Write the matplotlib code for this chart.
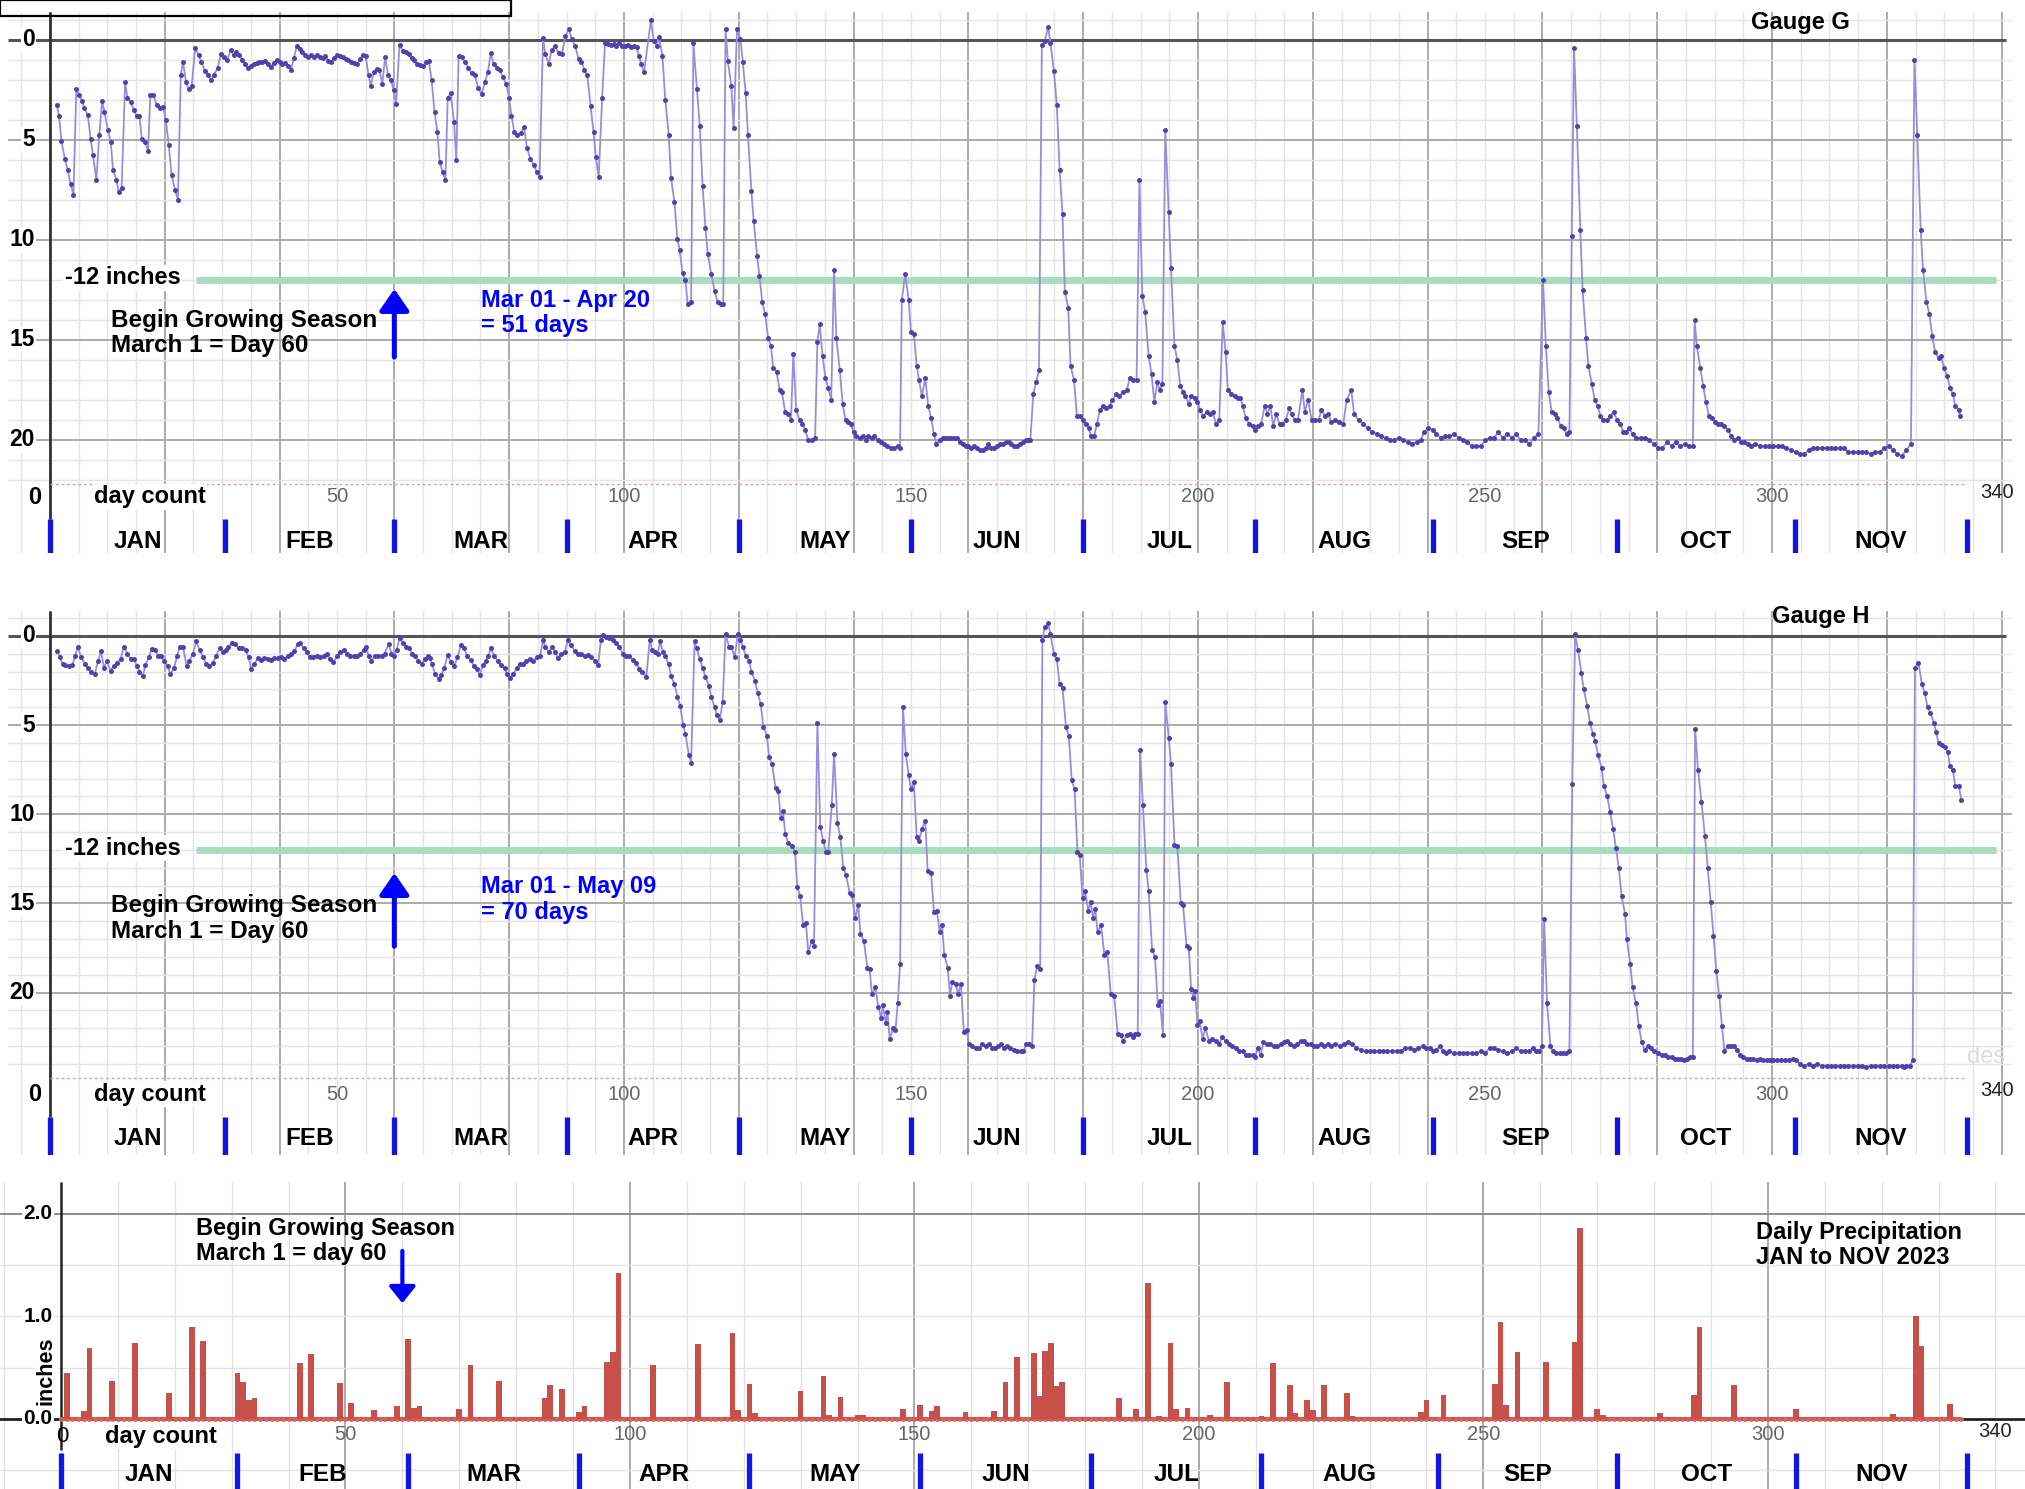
import numpy as np
import matplotlib.pyplot as plt

plt.rcParams['font.family'] = ['Liberation Sans', 'DejaVu Sans']

# ---- values: (day count, depth to water in inches) ----
gauge_g = [
    (1.2, 3.25), (1.6, 3.8), (2.0, 5.05), (2.6, 5.95), (3.1, 6.5), (3.6, 7.2), (4.1, 7.75),
    (4.6, 2.45), (5.1, 2.75), (5.6, 3.05), (6.0, 3.4), (6.6, 3.75), (7.1, 4.95), (7.5, 5.75),
    (8.1, 7.0), (8.6, 4.75), (9.1, 3.05), (9.5, 3.6), (10.1, 4.5), (10.6, 5.1), (11.0, 6.5),
    (11.6, 7.0), (12.0, 7.6), (12.5, 7.4), (13.1, 2.1), (13.5, 2.9), (14.1, 3.1), (14.6, 3.5),
    (15.1, 3.8), (15.6, 3.8), (16.0, 4.95), (16.6, 5.1), (17.1, 5.55), (17.5, 2.75), (18.0, 2.75),
    (18.6, 3.25), (19.1, 3.4), (19.7, 3.35), (20.2, 4.0), (20.7, 5.25), (21.2, 6.75), (21.8, 7.5),
    (22.3, 8.0), (22.8, 1.75), (23.2, 1.1), (23.7, 2.1), (24.2, 2.45), (24.7, 2.3), (25.3, 0.4),
    (25.9, 0.75), (26.4, 1.1), (27.0, 1.55), (27.5, 1.75), (28.1, 2.0), (28.6, 1.75), (29.2, 1.4),
    (29.8, 0.7), (30.3, 0.85), (30.9, 1.0), (31.5, 0.5), (32.0, 0.75), (32.5, 0.6), (33.0, 0.75),
    (33.5, 1.0), (34.0, 1.2), (34.5, 1.4), (35.0, 1.3), (35.5, 1.2), (36.0, 1.15), (36.5, 1.1),
    (37.0, 1.1), (37.5, 1.05), (38.0, 1.2), (38.5, 1.35), (39.0, 1.15), (39.5, 1.0), (40.0, 1.1),
    (40.5, 1.2), (41.0, 1.15), (41.5, 1.3), (42.0, 1.5), (42.5, 0.9), (43.0, 0.3), (43.5, 0.45),
    (44.0, 0.6), (44.5, 0.75), (45.0, 0.85), (45.5, 0.75), (46.0, 0.85), (46.5, 0.75), (47.0, 0.85),
    (47.5, 0.9), (48.0, 0.8), (48.5, 1.05), (49.0, 1.1), (49.5, 0.9), (50.0, 0.75), (50.5, 0.8),
    (51.0, 0.85), (51.5, 0.95), (52.0, 1.0), (52.5, 1.1), (53.0, 1.15), (53.5, 1.2), (54.0, 0.95),
    (54.5, 0.75), (55.0, 0.8), (55.5, 1.75), (55.9, 2.3), (56.4, 1.6), (56.9, 1.45), (57.4, 1.5),
    (57.9, 2.2), (58.4, 0.85), (58.9, 1.75), (59.4, 2.0), (59.9, 2.5), (60.3, 3.2), (60.9, 0.25),
    (61.5, 0.55), (62.0, 0.6), (62.5, 0.7), (63.0, 0.9), (63.5, 1.0), (64.0, 1.2), (64.5, 1.25),
    (65.0, 1.3), (65.5, 1.1), (66.0, 1.05), (66.5, 2.0), (67.0, 3.6), (67.5, 4.6), (67.9, 6.1),
    (68.4, 6.6), (68.9, 7.0), (69.3, 2.9), (69.8, 2.65), (70.4, 4.1), (70.8, 6.0), (71.2, 0.8),
    (71.8, 0.85), (72.3, 1.1), (72.9, 1.4), (73.5, 1.65), (74.0, 1.75), (74.6, 2.4), (75.2, 2.7),
    (75.8, 2.1), (76.3, 1.6), (76.8, 0.65), (77.3, 1.2), (77.9, 1.4), (78.4, 1.5), (78.9, 1.85),
    (79.5, 2.2), (80.0, 2.9), (80.4, 3.8), (80.9, 4.6), (81.4, 4.75), (82.0, 4.65), (82.6, 4.35),
    (83.1, 5.4), (83.7, 5.95), (84.3, 6.25), (84.8, 6.6), (85.3, 6.85), (85.9, -0.1), (86.3, 0.7),
    (86.9, 1.2), (87.4, 0.5), (88.0, 0.3), (88.6, 0.65), (89.2, 0.7), (89.8, -0.2), (90.4, -0.55),
    (90.9, -0.05), (91.5, 0.3), (92.1, 0.95), (92.6, 1.1), (93.1, 1.5), (93.6, 1.75), (94.2, 3.3),
    (94.7, 4.6), (95.1, 5.85), (95.6, 6.85), (96.2, 2.9), (96.7, 0.15), (97.2, 0.2), (97.7, 0.25),
    (98.2, 0.2), (98.7, 0.3), (99.2, 0.15), (99.7, 0.3), (100.2, 0.3), (100.7, 0.25), (101.2, 0.35),
    (101.7, 0.3), (102.2, 0.35), (102.6, 0.8), (103.0, 1.2), (103.5, 1.6), (104.7, -1.0),
    (105.2, 0.05), (105.7, 0.3), (106.1, -0.15), (106.7, 0.8), (107.2, 3.0), (107.8, 4.75),
    (108.2, 6.9), (108.8, 8.1), (109.3, 9.95), (109.7, 10.5), (110.2, 11.65), (110.7, 12.0),
    (111.1, 13.2), (111.7, 13.1), (112.1, 0.15), (112.7, 2.45), (113.2, 4.3), (113.7, 7.3),
    (114.2, 9.4), (114.6, 10.7), (115.2, 11.7), (115.8, 12.55), (116.3, 13.1), (116.9, 13.2),
    (117.3, 13.2), (117.7, -0.55), (118.1, 1.05), (118.7, 2.3), (119.1, 4.4), (119.7, -0.55),
    (120.3, -0.05), (120.7, 1.1), (121.2, 2.65), (121.6, 4.75), (122.2, 7.55), (122.6, 9.05),
    (123.2, 10.8), (123.6, 11.8), (124.1, 13.1), (124.6, 13.7), (125.1, 14.9), (125.6, 15.3),
    (126.0, 16.4), (126.6, 16.6), (127.1, 17.5), (127.5, 17.6), (128.1, 18.6), (128.6, 18.7),
    (129.1, 19.0), (129.5, 15.7), (130.0, 18.5), (130.6, 19.0), (131.1, 19.2), (131.6, 19.5),
    (132.1, 20.0), (132.7, 20.0), (133.3, 19.9), (133.7, 15.1), (134.1, 14.2), (134.6, 15.8),
    (135.1, 16.9), (135.6, 17.4), (136.1, 18.0), (136.6, 11.5), (137.0, 14.9), (137.6, 16.5),
    (138.1, 18.2), (138.6, 19.0), (139.1, 19.1), (139.5, 19.2), (140.0, 19.6), (140.5, 19.8),
    (141.1, 19.9), (141.6, 19.8), (142.2, 20.0), (142.6, 19.8), (143.2, 19.9), (143.6, 19.8),
    (144.2, 20.0), (144.7, 20.1), (145.3, 20.2), (145.9, 20.3), (146.5, 20.4), (147.1, 20.4),
    (147.7, 20.3), (148.1, 20.4), (148.4, 13.0), (149.0, 11.7), (149.6, 13.0), (150.0, 14.6),
    (150.5, 14.7), (151.0, 16.3), (151.4, 17.0), (151.9, 17.8), (152.5, 16.9), (153.0, 18.3),
    (153.5, 18.9), (154.0, 19.7), (154.4, 20.2), (155.0, 20.0), (155.5, 19.9), (156.0, 19.9),
    (156.5, 19.9), (157.0, 19.9), (157.5, 19.9), (158.0, 19.9), (158.5, 20.1), (159.0, 20.2),
    (159.5, 20.3), (160.0, 20.3), (160.5, 20.4), (161.0, 20.3), (161.5, 20.4), (162.0, 20.5),
    (162.5, 20.5), (163.0, 20.4), (163.5, 20.2), (164.0, 20.4), (164.5, 20.4), (165.0, 20.3),
    (165.5, 20.2), (166.0, 20.2), (166.5, 20.1), (167.0, 20.1), (167.5, 20.2), (168.0, 20.3),
    (168.5, 20.3), (169.0, 20.2), (169.5, 20.1), (170.0, 20.0), (170.4, 20.0), (170.8, 20.0),
    (171.3, 17.7), (171.8, 17.1), (172.3, 16.5), (172.8, 0.25), (173.3, 0.05), (173.9, -0.65),
    (174.3, 0.15), (174.9, 1.55), (175.4, 3.25), (175.9, 6.5), (176.4, 8.7), (176.8, 12.6),
    (177.4, 13.4), (177.8, 16.3), (178.4, 17.0), (178.9, 18.8), (179.4, 18.8), (179.9, 19.0),
    (180.5, 19.2), (181.0, 19.4), (181.3, 19.8), (181.9, 19.8), (182.4, 19.2), (182.9, 18.5),
    (183.4, 18.3), (184.0, 18.4), (184.6, 18.3), (185.1, 18.0), (185.8, 17.7), (186.3, 17.8),
    (186.9, 17.6), (187.6, 17.5), (188.1, 16.9), (188.6, 17.0), (189.3, 17.0), (189.8, 7.0),
    (190.3, 12.8), (190.8, 13.6), (191.4, 15.8), (191.9, 16.7), (192.4, 18.1), (192.9, 17.1),
    (193.3, 17.5), (193.8, 17.2), (194.3, 4.5), (194.9, 8.6), (195.3, 11.4), (195.9, 15.3),
    (196.4, 16.0), (196.9, 17.3), (197.4, 17.6), (197.8, 17.8), (198.4, 18.2), (198.8, 17.8),
    (199.4, 17.9), (199.9, 18.1), (200.4, 18.5), (200.9, 18.8), (201.5, 18.6), (202.1, 18.7),
    (202.6, 18.6), (203.1, 19.2), (203.7, 19.0), (204.3, 14.1), (204.8, 15.6), (205.2, 17.5),
    (205.8, 17.7), (206.4, 17.8), (206.9, 17.9), (207.4, 17.9), (207.8, 18.3), (208.3, 18.9),
    (208.9, 19.2), (209.5, 19.3), (210.0, 19.5), (210.5, 19.3), (211.0, 19.2), (211.6, 18.3),
    (212.1, 18.7), (212.6, 18.3), (213.1, 19.3), (213.6, 18.7), (214.2, 19.2), (214.7, 19.2),
    (215.3, 19.0), (215.9, 18.4), (216.3, 18.7), (216.9, 19.0), (217.4, 19.0), (218.2, 17.5),
    (218.6, 18.6), (219.2, 18.0), (219.8, 19.0), (220.4, 19.0), (221.0, 19.0), (221.5, 18.5),
    (222.1, 18.8), (222.7, 18.7), (223.2, 19.1), (223.9, 19.0), (224.5, 19.1), (225.3, 19.2),
    (225.9, 18.0), (226.7, 17.5), (227.2, 18.7), (228.0, 19.0), (228.8, 19.2), (229.6, 19.4),
    (230.3, 19.6), (231.1, 19.7), (231.9, 19.8), (232.7, 19.9), (233.4, 20.0), (234.2, 20.0),
    (235.0, 19.9), (235.7, 20.0), (236.5, 20.1), (237.3, 20.2), (238.1, 20.1), (238.8, 20.0),
    (239.4, 19.6), (240.1, 19.4), (240.9, 19.5), (241.5, 19.7), (242.3, 19.9), (243.1, 19.8),
    (243.8, 19.8), (244.6, 19.7), (245.4, 19.9), (246.2, 20.0), (246.9, 20.1), (247.7, 20.3),
    (248.5, 20.3), (249.3, 20.3), (250.0, 20.0), (250.8, 19.9), (251.6, 19.9), (252.3, 19.6),
    (253.1, 19.9), (253.9, 19.7), (254.7, 19.9), (255.4, 19.7), (256.2, 20.0), (257.0, 20.0),
    (257.7, 20.2), (258.5, 19.9), (259.3, 19.7), (260.1, 12.0), (260.6, 15.3), (261.1, 17.6),
    (261.6, 18.6), (262.2, 18.7), (262.6, 18.9), (263.2, 19.3), (263.7, 19.4), (264.2, 19.7),
    (264.7, 19.6), (265.1, 9.8), (265.5, 0.4), (266.0, 4.3), (266.6, 9.5), (267.0, 12.5),
    (267.6, 14.9), (268.0, 16.3), (268.6, 17.2), (269.1, 18.0), (269.6, 18.3), (270.1, 18.8),
    (270.6, 19.0), (271.3, 19.0), (271.8, 18.8), (272.4, 18.6), (273.0, 19.0), (273.6, 19.2),
    (274.1, 19.6), (274.6, 19.6), (275.1, 19.4), (275.7, 19.7), (276.3, 19.9), (277.1, 19.9),
    (277.8, 19.9), (278.6, 20.0), (279.4, 20.2), (280.1, 20.4), (280.9, 20.4), (281.7, 20.1),
    (282.5, 20.3), (283.2, 20.1), (284.0, 20.3), (284.8, 20.2), (285.5, 20.3), (286.2, 20.3),
    (286.5, 14.0), (286.9, 15.3), (287.5, 16.4), (288.0, 17.3), (288.5, 18.1), (289.0, 18.8),
    (289.6, 18.9), (290.0, 19.1), (290.6, 19.2), (291.1, 19.2), (291.7, 19.3), (292.3, 19.5),
    (292.9, 19.8), (293.4, 20.0), (294.0, 19.9), (294.6, 20.1), (295.2, 20.1), (295.8, 20.2),
    (296.4, 20.3), (297.1, 20.2), (297.9, 20.3), (298.7, 20.3), (299.4, 20.3), (300.2, 20.3),
    (301.0, 20.3), (301.8, 20.3), (302.5, 20.4), (303.3, 20.5), (304.1, 20.6), (304.9, 20.7),
    (305.6, 20.7), (306.4, 20.5), (307.2, 20.4), (307.9, 20.4), (308.7, 20.4), (309.5, 20.4),
    (310.2, 20.4), (311.0, 20.4), (311.8, 20.4), (312.6, 20.4), (313.3, 20.6), (314.1, 20.6),
    (314.9, 20.6), (315.7, 20.6), (316.4, 20.6), (317.2, 20.7), (318.0, 20.6), (318.8, 20.6),
    (319.5, 20.4), (320.3, 20.3), (321.1, 20.5), (321.8, 20.7), (322.6, 20.8), (323.4, 20.5),
    (324.2, 20.2), (324.8, 1.0), (325.3, 4.75), (325.9, 9.5), (326.3, 11.5), (326.9, 13.1),
    (327.4, 13.7), (327.9, 14.8), (328.4, 15.6), (329.0, 15.9), (329.4, 15.8), (330.0, 16.4),
    (330.5, 16.8), (331.0, 17.4), (331.5, 17.7), (331.9, 18.3), (332.5, 18.5), (332.8, 18.8),
]

gauge_h = [
    (1.3, 0.85), (1.7, 1.2), (2.2, 1.55), (2.7, 1.65), (3.3, 1.7), (3.9, 1.65), (4.4, 1.1),
    (4.9, 0.6), (5.4, 1.2), (6.1, 1.55), (6.6, 1.8), (7.2, 2.0), (7.8, 2.15), (8.4, 1.4),
    (8.9, 0.85), (9.4, 1.8), (9.9, 1.4), (10.6, 1.95), (11.1, 1.7), (11.7, 1.5), (12.3, 1.3),
    (12.9, 0.6), (13.5, 1.0), (14.1, 1.3), (14.6, 1.3), (15.2, 1.7), (15.6, 2.0), (16.2, 2.25),
    (16.6, 1.65), (17.2, 1.2), (17.7, 0.75), (18.3, 0.8), (18.9, 1.1), (19.4, 1.1), (19.9, 1.4),
    (20.5, 1.7), (21.0, 2.15), (21.6, 1.8), (22.2, 1.1), (22.6, 0.6), (23.2, 0.6), (23.8, 1.7),
    (24.3, 1.4), (24.9, 1.0), (25.5, 0.3), (26.1, 0.8), (26.7, 1.2), (27.2, 1.55), (27.8, 1.7),
    (28.4, 1.5), (29.0, 1.1), (29.6, 0.65), (30.2, 0.9), (30.7, 0.8), (31.1, 0.6), (31.7, 0.4),
    (32.3, 0.45), (32.9, 0.7), (33.5, 0.65), (34.1, 0.8), (34.6, 1.2), (35.1, 1.85), (35.6, 1.55),
    (36.3, 1.25), (36.8, 1.35), (37.3, 1.25), (38.0, 1.3), (38.5, 1.35), (39.1, 1.25), (39.7, 1.25),
    (40.3, 1.2), (40.8, 1.3), (41.5, 1.1), (42.0, 1.0), (42.6, 0.85), (43.2, 0.45), (43.6, 0.4),
    (44.2, 0.7), (44.7, 0.9), (45.3, 1.2), (45.9, 1.2), (46.5, 1.1), (47.1, 1.2), (47.7, 1.15),
    (48.2, 1.0), (48.8, 1.3), (49.4, 1.45), (50.0, 1.15), (50.6, 0.9), (51.2, 0.8), (51.7, 1.0),
    (52.3, 1.1), (52.9, 1.15), (53.5, 1.15), (54.1, 1.0), (54.7, 0.8), (55.1, 0.6), (55.5, 1.1),
    (56.0, 1.4), (56.6, 1.1), (57.2, 1.1), (57.8, 1.1), (58.3, 1.0), (59.0, 0.45), (59.5, 1.0),
    (59.9, 1.1), (60.4, 0.8), (60.9, 0.1), (61.5, 0.4), (62.1, 0.6), (62.6, 0.7), (63.1, 1.0),
    (63.6, 1.15), (64.2, 1.4), (64.8, 1.55), (65.3, 1.3), (65.8, 1.15), (66.2, 1.25), (66.6, 1.6),
    (67.1, 2.15), (67.7, 2.4), (68.1, 2.2), (68.7, 1.8), (69.3, 1.05), (69.8, 1.45), (70.4, 1.7),
    (71.0, 1.2), (71.6, 0.5), (72.2, 0.7), (72.7, 1.15), (73.3, 1.35), (73.9, 1.7), (74.4, 1.85),
    (74.9, 2.2), (75.4, 1.65), (75.9, 1.4), (76.4, 1.1), (76.8, 0.7), (77.4, 1.1), (78.0, 1.4),
    (78.6, 1.65), (79.2, 1.8), (79.7, 2.15), (80.1, 2.35), (80.7, 2.15), (81.3, 1.8), (81.9, 1.6),
    (82.4, 1.55), (83.0, 1.4), (83.6, 1.3), (84.2, 1.4), (84.8, 1.2), (85.4, 1.1), (85.9, 0.25),
    (86.3, 0.6), (86.9, 0.9), (87.5, 0.6), (88.0, 0.9), (88.5, 1.25), (89.1, 1.0), (89.7, 0.9),
    (90.2, 0.25), (90.8, 0.5), (91.4, 0.85), (92.0, 1.0), (92.5, 1.0), (93.2, 1.15), (93.7, 1.05),
    (94.3, 1.2), (95.0, 1.4), (95.5, 1.65), (96.0, 0.2), (96.4, -0.05), (96.8, 0.05), (97.4, 0.1),
    (98.1, 0.2), (98.6, 0.4), (99.2, 0.6), (99.8, 1.0), (100.3, 1.1), (100.9, 1.1), (101.5, 1.35),
    (102.1, 1.5), (102.7, 1.85), (103.2, 2.0), (103.9, 2.3), (104.5, 0.2), (104.9, 0.8),
    (105.4, 0.9), (105.9, 1.0), (106.3, 0.3), (106.8, 0.9), (107.2, 1.1), (107.8, 1.6),
    (108.2, 2.25), (108.8, 2.7), (109.3, 3.4), (109.8, 3.9), (110.3, 5.0), (110.7, 5.5),
    (111.3, 6.65), (111.7, 7.1), (112.3, 0.3), (112.7, 0.7), (113.2, 1.3), (113.7, 1.8),
    (114.2, 2.3), (114.8, 2.8), (115.2, 3.4), (115.8, 4.0), (116.2, 4.45), (116.7, 4.7),
    (117.2, 3.7), (117.7, -0.1), (118.3, 0.6), (118.7, 0.6), (119.3, 1.2), (119.8, -0.1),
    (120.3, 0.2), (120.7, 0.6), (121.2, 1.1), (121.8, 1.4), (122.2, 2.0), (122.8, 2.5),
    (123.3, 3.2), (123.8, 3.8), (124.3, 5.1), (124.9, 5.6), (125.3, 6.8), (125.8, 7.2),
    (126.4, 8.5), (126.9, 8.7), (127.3, 10.2), (127.7, 9.8), (128.1, 11.1), (128.6, 11.6),
    (129.2, 11.8), (129.8, 12.1), (130.2, 14.1), (130.7, 14.6), (131.2, 16.2), (131.7, 16.1),
    (132.1, 17.7), (132.7, 17.1), (133.1, 17.4), (133.7, 4.9), (134.2, 10.7), (134.7, 11.5),
    (135.2, 12.1), (135.6, 12.1), (136.2, 9.5), (136.6, 6.6), (137.2, 10.5), (137.7, 11.3),
    (138.2, 13.0), (138.7, 13.4), (139.3, 14.4), (139.7, 14.5), (140.3, 15.8), (140.8, 15.1),
    (141.2, 16.7), (141.8, 17.1), (142.4, 18.6), (142.8, 18.7), (143.2, 20.1), (143.8, 19.7),
    (144.3, 20.8), (144.8, 21.4), (145.1, 20.7), (145.6, 21.7), (145.9, 21.1), (146.3, 22.6),
    (146.9, 22.0), (147.3, 22.1), (147.7, 20.6), (148.1, 18.4), (148.6, 4.0), (149.1, 6.6),
    (149.6, 7.8), (150.0, 8.6), (150.5, 8.2), (151.0, 11.3), (151.4, 11.5), (151.9, 10.8),
    (152.5, 10.4), (152.9, 13.2), (153.5, 13.3), (154.0, 15.5), (154.5, 15.4), (155.0, 16.6),
    (155.4, 16.2), (155.8, 17.9), (156.4, 18.6), (156.8, 20.2), (157.2, 19.4), (157.8, 19.5),
    (158.2, 20.1), (158.7, 19.5), (159.2, 22.2), (159.7, 22.1), (160.1, 22.9), (160.7, 23.0),
    (161.3, 23.1), (161.9, 23.1), (162.4, 22.9), (163.0, 23.0), (163.6, 22.9), (164.2, 23.1),
    (164.6, 23.1), (165.2, 23.0), (165.7, 22.9), (166.2, 23.1), (166.7, 23.0), (167.3, 23.1),
    (167.9, 23.2), (168.4, 23.3), (169.1, 23.3), (169.6, 23.3), (170.1, 22.9), (170.6, 22.9),
    (171.1, 23.0), (171.5, 19.3), (172.0, 18.5), (172.5, 18.7), (172.9, 0.2), (173.3, -0.5),
    (173.9, -0.7), (174.3, -0.1), (174.9, 1.0), (175.4, 1.3), (175.9, 2.7), (176.4, 2.9),
    (177.0, 5.1), (177.5, 5.6), (178.0, 8.1), (178.5, 8.6), (179.0, 12.1), (179.4, 12.3),
    (179.9, 14.7), (180.3, 14.3), (180.9, 15.4), (181.3, 14.9), (181.7, 15.8), (182.1, 15.3),
    (182.5, 16.6), (183.1, 16.2), (183.7, 17.9), (184.2, 17.7), (184.8, 20.1), (185.4, 20.2),
    (186.0, 22.3), (186.5, 22.4), (187.0, 22.7), (187.6, 22.4), (188.1, 22.3), (188.7, 22.5),
    (189.1, 22.3), (189.5, 22.3), (189.9, 6.4), (190.4, 9.5), (191.0, 13.1), (191.4, 14.3),
    (192.0, 17.6), (192.5, 18.0), (193.0, 20.7), (193.4, 20.5), (193.9, 22.4), (194.3, 3.7),
    (194.9, 5.7), (195.3, 7.2), (195.9, 11.7), (196.4, 11.8), (197.0, 15.0), (197.4, 15.1),
    (198.0, 17.4), (198.4, 17.5), (198.8, 19.8), (199.2, 20.3), (199.5, 19.9), (199.9, 21.8),
    (200.3, 21.6), (200.8, 22.6), (201.3, 22.0), (201.9, 22.7), (202.5, 22.6), (203.1, 22.7),
    (203.7, 22.9), (204.2, 22.5), (204.8, 22.7), (205.4, 22.9), (206.0, 23.0), (206.6, 23.1),
    (207.2, 23.3), (207.8, 23.3), (208.3, 23.5), (208.9, 23.5), (209.5, 23.5), (210.0, 23.6),
    (210.4, 23.1), (210.9, 23.5), (211.4, 22.8), (212.0, 22.9), (212.6, 22.9), (213.2, 23.0),
    (213.8, 23.0), (214.4, 22.9), (214.9, 22.8), (215.5, 22.7), (216.1, 22.9), (216.7, 23.0),
    (217.3, 22.9), (217.9, 22.7), (218.4, 22.7), (219.0, 22.9), (219.6, 22.9), (220.2, 23.0),
    (220.8, 23.0), (221.4, 22.9), (221.9, 23.0), (222.6, 22.9), (223.1, 23.0), (223.9, 22.9),
    (224.7, 23.0), (225.4, 22.9), (226.1, 22.8), (226.9, 22.9), (227.6, 23.1), (228.4, 23.2),
    (229.2, 23.3), (230.0, 23.3), (230.7, 23.3), (231.5, 23.3), (232.3, 23.3), (233.0, 23.3),
    (233.8, 23.3), (234.6, 23.3), (235.4, 23.3), (236.1, 23.1), (236.9, 23.1), (237.7, 23.2),
    (238.4, 23.1), (239.2, 23.0), (239.8, 23.1), (240.4, 23.1), (241.0, 23.3), (241.5, 23.2),
    (242.2, 23.0), (242.7, 23.3), (243.2, 23.4), (243.8, 23.3), (244.6, 23.4), (245.4, 23.4),
    (246.2, 23.4), (246.9, 23.4), (247.7, 23.4), (248.5, 23.4), (249.3, 23.3), (250.0, 23.4),
    (250.8, 23.1), (251.6, 23.1), (252.3, 23.2), (253.1, 23.3), (253.9, 23.4), (254.7, 23.3),
    (255.4, 23.1), (256.2, 23.3), (257.0, 23.3), (257.7, 23.3), (258.4, 23.1), (258.9, 23.3),
    (259.4, 23.3), (259.9, 23.0), (260.3, 15.9), (260.8, 20.6), (261.4, 23.0), (261.8, 23.3),
    (262.4, 23.4), (263.0, 23.4), (263.5, 23.4), (264.1, 23.4), (264.7, 23.3), (265.2, 8.3),
    (265.7, -0.1), (266.2, 0.8), (266.8, 2.1), (267.2, 3.0), (267.8, 3.9), (268.3, 4.9),
    (268.8, 5.5), (269.2, 5.9), (269.7, 6.7), (270.3, 7.4), (270.7, 8.4), (271.3, 9.0),
    (271.8, 9.9), (272.3, 10.8), (272.8, 11.9), (273.3, 13.0), (273.8, 14.6), (274.4, 15.6),
    (274.7, 17.0), (275.3, 18.4), (275.7, 19.7), (276.3, 20.6), (276.8, 21.9), (277.3, 22.8),
    (277.8, 23.2), (278.4, 23.0), (279.0, 23.1), (279.5, 23.3), (280.1, 23.4), (280.8, 23.5),
    (281.3, 23.5), (281.8, 23.6), (282.5, 23.6), (283.1, 23.7), (283.6, 23.7), (284.2, 23.7),
    (284.6, 23.8), (285.2, 23.7), (285.7, 23.6), (286.2, 23.6), (286.6, 5.2), (287.1, 7.5),
    (287.7, 9.3), (288.3, 11.2), (288.8, 13.0), (289.3, 14.9), (289.8, 16.8), (290.3, 18.8),
    (290.8, 20.2), (291.3, 21.9), (291.7, 23.3), (292.3, 23.0), (292.9, 23.0), (293.4, 23.0),
    (293.9, 23.2), (294.4, 23.5), (295.0, 23.6), (295.6, 23.7), (296.2, 23.7), (296.7, 23.7),
    (297.4, 23.8), (297.9, 23.7), (298.5, 23.8), (299.1, 23.8), (299.7, 23.8), (300.2, 23.8),
    (300.9, 23.8), (301.6, 23.8), (302.3, 23.8), (303.0, 23.8), (303.6, 23.7), (304.1, 23.8),
    (304.9, 24.0), (305.6, 24.1), (306.4, 24.0), (307.2, 24.1), (307.9, 24.0), (308.7, 24.1),
    (309.5, 24.1), (310.3, 24.1), (311.0, 24.1), (311.8, 24.1), (312.6, 24.1), (313.3, 24.1),
    (314.1, 24.1), (314.9, 24.1), (315.7, 24.1), (316.4, 24.2), (317.2, 24.1), (318.0, 24.1),
    (318.8, 24.1), (319.5, 24.1), (320.3, 24.1), (321.1, 24.1), (321.8, 24.1), (322.6, 24.1),
    (323.0, 24.2), (323.4, 24.1), (324.0, 24.1), (324.5, 23.8), (324.9, 1.8), (325.5, 1.5),
    (326.1, 2.7), (326.6, 3.2), (327.1, 4.0), (327.6, 4.3), (328.2, 4.9), (328.6, 5.4),
    (329.0, 6.0), (329.6, 6.1), (330.1, 6.2), (330.6, 6.5), (331.0, 7.3), (331.5, 7.5),
    (331.9, 8.4), (332.5, 8.4), (333.0, 9.2),
]

# daily precipitation (inches) on days with rain; all other recorded days are 0
rain_days = [1, 4, 5, 9, 13, 19, 23, 25, 31, 32, 33, 34, 42, 44, 49, 51, 55, 59, 61, 62, 63,
             70, 72, 77, 85, 86, 88, 91, 92, 96, 97, 98, 104, 112, 118, 119, 121, 122, 130,
             134, 135, 137, 140, 141, 148, 151, 153, 154, 159, 164, 166, 168, 171, 172, 173,
             174, 175, 176, 186, 189, 191, 193, 195, 196, 198, 202, 205, 211, 213, 216, 217,
             219, 220, 222, 226, 227, 239, 240, 243, 252, 253, 254, 256, 261, 266, 267, 270,
             271, 281, 287, 288, 294, 305, 322, 326, 327, 332]
rain_inches = [0.45, 0.075, 0.69, 0.37, 0.74, 0.25, 0.90, 0.76, 0.45, 0.36, 0.19, 0.20, 0.55,
               0.63, 0.35, 0.16, 0.085, 0.13, 0.78, 0.11, 0.13, 0.10, 0.53, 0.37, 0.20, 0.33,
               0.29, 0.065, 0.13, 0.56, 0.65, 1.42, 0.53, 0.73, 0.84, 0.09, 0.34, 0.06, 0.27,
               0.42, 0.04, 0.21, 0.04, 0.04, 0.10, 0.14, 0.075, 0.13, 0.065, 0.075, 0.36, 0.60,
               0.64, 0.22, 0.66, 0.74, 0.32, 0.36, 0.20, 0.094, 1.33, 0.03, 0.74, 0.10, 0.11,
               0.04, 0.365, 0.03, 0.55, 0.33, 0.055, 0.19, 0.09, 0.33, 0.25, 0.03, 0.07, 0.19,
               0.23, 0.34, 0.95, 0.14, 0.65, 0.56, 0.75, 1.86, 0.094, 0.04, 0.06, 0.23, 0.90,
               0.33, 0.094, 0.05, 1.00, 0.71, 0.15]
record_days = list(range(0, 335))

month_names = ['JAN', 'FEB', 'MAR', 'APR', 'MAY', 'JUN', 'JUL', 'AUG', 'SEP', 'OCT', 'NOV']
gauge_month_marks = [0, 30.5, 60, 90, 120, 150, 180, 210, 241, 273, 304, 334]
rain_month_marks = [0, 31, 61, 91, 121, 151, 181, 211, 242, 273.5, 305, 335]
depth_ticks = [0, 5, 10, 15, 20]
rain_ticks = [0.0, 1.0, 2.0]
day_ticks = [50, 100, 150, 200, 250, 300]
threshold = 12
season_start = 60

W, H = 2025, 1489
fig = plt.figure(figsize=(W / 100, H / 100), dpi=100)

BLUE = '#0000ff'
MARK_BLUE = '#1414e6'
LINE_PURPLE = '#9a8cdb'
DOT_PURPLE = '#5340ad'
GREEN = '#a8dcbd'
BAR_RED = '#c8504b'
white_box = dict(fc='white', ec='none', pad=1.0)


def px_axes(x0, y0, x1, y1):
    ax = fig.add_axes([x0 / W, 1 - y1 / H, (x1 - x0) / W, (y1 - y0) / H])
    ax.set_axis_off()
    return ax


def month_row(ax, marks, lo, hi, label_y):
    ax.vlines(marks, lo, hi, colors=MARK_BLUE, lw=3.8, zorder=5)
    for i, name in enumerate(month_names):
        ax.text((marks[i] + marks[i + 1]) / 2, label_y, name, ha='center', va='center',
                fontsize=17.5, fontweight='bold', zorder=6)


def gauge_panel(ax, data, ybottom, red_y, num_y, mark_lo, month_y, title, title_y,
                note_y, arrow_tail, arrow_head, span_text, span_y):
    ax.set_xlim(-7.3, 341.8)
    ax.set_ylim(ybottom, -1.4)

    # grid
    for d in range(-5, 345, 5):
        major = d % 20 == 0
        ax.axvline(d, color='#ababab' if major else '#e4e4e4', lw=1.4 if major else 1.0, zorder=0)
    for v in range(-1, int(red_y) + 1):
        if v % 5:
            ax.axhline(v, color='#e4e4e4', lw=1.0, zorder=0)
    for v in depth_ticks[1:]:
        ax.axhline(v, color='#ababab', lw=1.4, zorder=0)
    ax.hlines(0, -7.3, 340.8, colors='#555555', lw=2.2, zorder=1)
    ax.vlines(0, -1.4, mark_lo, colors='#333333', lw=2, zorder=1)
    ax.hlines(red_y, 0, 333.5, colors='#e99a9a', lw=1, linestyles=(0, (2, 2)), zorder=1)

    # threshold and data
    ax.hlines(threshold, 25.4, 339, colors=GREEN, lw=5, zorder=2)
    days, depth = zip(*data)
    ax.plot(days, depth, '-', color=LINE_PURPLE, lw=1.3, zorder=3)
    ax.plot(days, depth, 'o', color=DOT_PURPLE, ms=3.6, mec='none', zorder=4)

    # axis labels
    for v in depth_ticks:
        ax.text(-2.6, v, str(v), ha='right', va='center', fontsize=16.5, fontweight='bold',
                bbox=white_box, zorder=2)
    ax.text(-2.6, num_y, '0', ha='center', va='center', fontsize=17, fontweight='bold')
    ax.text(7.7, num_y, 'day count', ha='left', va='center', fontsize=17, fontweight='bold',
            bbox=white_box, zorder=2)
    for d in day_ticks:
        ax.text(d, num_y, str(d), ha='center', va='center', fontsize=14.5, color='#666666')
    ax.text(339.2, num_y - 0.2, '340', ha='center', va='center', fontsize=14.5, color='#222222')
    month_row(ax, gauge_month_marks, mark_lo, ybottom, month_y)

    # annotations
    ax.text(2.6, threshold - 0.1, '-12 inches', ha='left', va='center', fontsize=17,
            fontweight='bold', bbox=white_box, zorder=2)
    ax.text(10.6, note_y, 'Begin Growing Season\nMarch 1 = Day 60', ha='left', va='center',
            fontsize=17.5, fontweight='bold', linespacing=1.15, zorder=6)
    ax.annotate('', xy=(season_start, arrow_head), xytext=(season_start, arrow_tail),
                arrowprops=dict(arrowstyle='-|>,head_length=0.65,head_width=0.45',
                                mutation_scale=20, lw=3.6, color=BLUE, shrinkA=0, shrinkB=0),
                zorder=6)
    ax.text(75.1, span_y, span_text, ha='left', va='center', fontsize=17, fontweight='bold',
            color=BLUE, linespacing=1.15, zorder=6)
    ax.text(title[1], title_y, title[0], ha='center', va='center', fontsize=17,
            fontweight='bold', zorder=6)


# ---- Gauge G ----
ax_g = px_axes(8, 12, 2012, 553)
gauge_panel(ax_g, gauge_g, 25.65, 22.2, 22.85, 23.95, 25.05, ('Gauge G', 305.0), -0.9,
            14.65, 15.85, 12.45, 'Mar 01 - Apr 20\n= 51 days', 13.65)

# ---- Gauge H ----
ax_h = px_axes(8, 611, 2012, 1155)
gauge_panel(ax_h, gauge_h, 29.11, 24.8, 25.7, 27.0, 28.2, ('Gauge H', 308.5), -1.08,
            15.85, 17.4, 13.3, 'Mar 01 - May 09\n= 70 days', 14.8)
ax_h.text(337.3, 23.6, 'des', ha='center', va='center', fontsize=17, color='#dcdcdc')

# ---- Daily precipitation ----
ax_p = px_axes(0, 1182, 2025, 1489)
ax_p.set_xlim(-10.72, 345.2)
ax_p.set_ylim(-0.683, 2.312)
for d in range(-10, 346, 10):
    major = d % 50 == 0 and d != 0
    ax_p.axvline(d, color='#9c9c9c' if major else '#e2e2e2', lw=1.2 if major else 1.0, zorder=0)
for v in (-0.5, 0.5, 1.0, 1.5):
    ax_p.axhline(v, color='#e2e2e2', lw=1.0, zorder=0)
ax_p.axhline(2.0, color='#8c8c8c', lw=1.4, zorder=0)
ax_p.axhline(0, color='#222222', lw=2, zorder=1)
ax_p.vlines(0, -0.3, 2.312, colors='#222222', lw=1.8, zorder=1)

ax_p.hlines(0, 0, 334, colors=BAR_RED, lw=3.0, zorder=2)
ax_p.plot(record_days, [0.0] * len(record_days), 'o', ms=3.4, color='#d26460', mec='none', zorder=2)
ax_p.bar(rain_days, rain_inches, width=1.0, color=BAR_RED, zorder=3)

for v in rain_ticks:
    ax_p.text(-1.5, v, f'{v:.1f}', ha='right', va='center', fontsize=15, fontweight='bold',
              bbox=white_box, zorder=2)
ax_p.text(-2.6, 0.47, 'inches', rotation=90, ha='center', va='center', fontsize=15.5,
          fontweight='bold', bbox=white_box, zorder=2)
ax_p.text(0.2, -0.17, '0', ha='center', va='center', fontsize=16)
ax_p.text(7.7, -0.17, 'day count', ha='left', va='center', fontsize=17, fontweight='bold',
          bbox=white_box, zorder=2)
for d in day_ticks:
    ax_p.text(d, -0.15, str(d), ha='center', va='center', fontsize=14.5, color='#666666')
ax_p.text(340, -0.12, '340', ha='center', va='center', fontsize=14.5, color='#222222')
month_row(ax_p, rain_month_marks, -0.33, -0.683, -0.546)

ax_p.text(23.7, 1.735, 'Begin Growing Season\nMarch 1 = day 60', ha='left', va='center',
          fontsize=17, fontweight='bold', linespacing=1.1, zorder=6)
ax_p.annotate('', xy=(season_start, 1.13), xytext=(season_start, 1.64),
              arrowprops=dict(arrowstyle='-|>,head_length=0.5,head_width=0.4',
                              mutation_scale=20, lw=3.0, color=BLUE, shrinkA=0, shrinkB=0),
              zorder=6)
ax_p.text(297.9, 1.695, 'Daily Precipitation\nJAN to NOV 2023', ha='left', va='center',
          fontsize=17, fontweight='bold', linespacing=1.1, zorder=6)

# cropped caption box at the very top-left
fig.patches.append(plt.Rectangle((0, 1 - 16 / H), 511 / W, 16 / H, transform=fig.transFigure,
                                 fill=False, ec='black', lw=1.6))

fig.savefig('out.png', dpi=100)
